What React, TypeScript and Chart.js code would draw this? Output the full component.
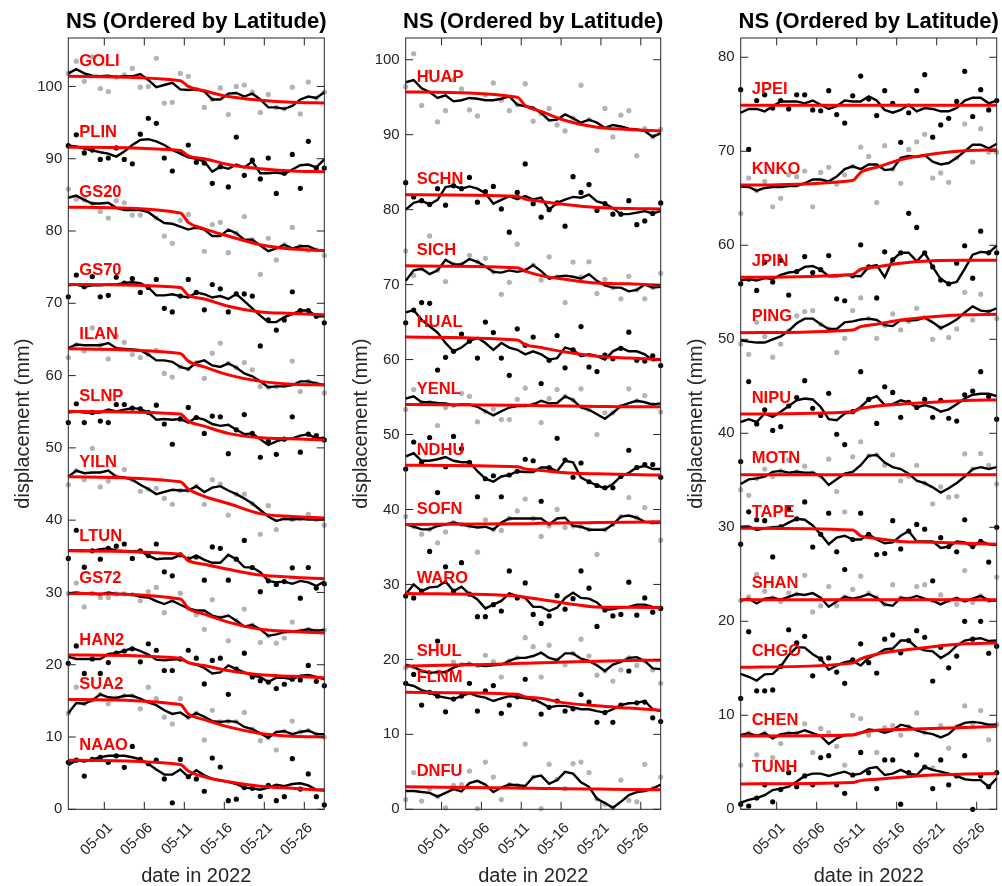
import React, { useEffect, useRef } from "react";
import { Chart, registerables } from "chart.js";

Chart.register(...registerables);
Chart.defaults.font.family = '"Liberation Sans", Arial, Helvetica, sans-serif';

// x axis: day index 0 = 2022-04-26 12:00, one value per day
const fitDays = [0, 14, 15, 17, 20, 24, 28, 32];
const dateTickValues = [4.5, 9.5, 14.5, 19.5, 24.5, 29.5];
const dateTickLabels = ["05-01", "05-06", "05-11", "05-16", "05-21", "05-26"];

const panel1YTicks = [0, 10, 20, 30, 40, 50, 60, 70, 80, 90, 100];
const panel2YTicks = [0, 10, 20, 30, 40, 50, 60, 70, 80, 90, 100];
const panel3YTicks = [0, 10, 20, 30, 40, 50, 60, 70, 80];

const panelTitle = "NS (Ordered by Latitude)";
const xAxisTitle = "date in 2022";
const yAxisTitle = "displacement (mm)";

// ---------------- panel 1 ----------------
const GOLI_obs = [101.8,103.5,100.7,104.1,99.7,99.3,101.3,101.6,102.5,99.9,100.0,103.9,97.7,97.8,101.8,101.4,99.6,97.1,98.2,99.8,96.1,100.0,100.2,99.2,96.4,98.9,97.1,96.9,99.9,96.2,100.6,98.4,99.2];
const GOLI_smooth = [101.8,102.4,101.8,101.5,101.4,101.5,101.3,101.4,101.4,101.7,100.9,99.9,100.2,100.5,99.6,99.5,99.6,99.3,98.2,98.2,99.0,99.1,98.6,99.0,98.2,97.1,97.1,96.9,97.3,98.2,98.6,98.4,99.2];
const GOLI_fit = [101.4,100.8,100.0,99.4,98.6,98.1,97.8,97.7];

const PLIN_obs = [91.8,93.3,90.8,91.2,89.9,90.1,91.5,89.9,89.3,93.4,95.6,94.9,90.1,88.3,91.0,91.9,89.5,89.4,86.6,88.9,86.1,93.0,87.7,89.8,87.2,90.1,85.2,88.0,90.6,85.9,92.4,88.7,88.7];
const PLIN_smooth = [91.8,91.7,91.4,91.15,90.9,90.7,90.3,91.0,91.9,92.6,92.7,92.4,91.9,91.2,90.7,90.2,90.0,89.6,88.2,88.9,88.6,89.2,88.8,89.6,88.0,88.0,88.1,87.9,88.5,89.1,89.2,88.8,89.9];
const PLIN_fit = [91.6,91.15,90.4,90.0,89.2,88.6,88.3,88.2];

const GS20_obs = [85.8,84.4,84.3,83.8,82.7,81.8,84.2,83.9,82.2,82.2,82.8,81.8,79.3,78.3,81.5,82.3,80.5,77.2,80.9,81.2,77.0,79.7,82.0,78.8,74.0,79.0,76.0,78.1,80.5,77.9,77.3,77.4,76.6];
const GS20_smooth = [84.6,84.9,84.3,83.8,83.8,83.9,83.2,82.9,82.9,82.9,82.6,81.8,81.1,81.0,80.6,80.2,80.5,80.2,79.3,79.3,80.2,79.7,78.8,78.8,78.0,77.2,77.6,78.1,77.6,77.9,77.9,77.4,77.2];
const GS20_fit = [83.3,82.5,81.2,80.3,79.3,78.1,77.5,77.3];

const GS70_obs = [70.9,73.9,72.3,73.7,70.9,71.1,73.6,72.8,73.4,71.5,72.2,73.3,69.3,68.8,71.0,73.3,71.5,69.1,72.6,72.0,68.8,71.3,71.3,71.0,64.1,67.7,66.3,67.7,71.6,69.0,69.0,68.2,67.3];
const GS70_smooth = [72.5,72.6,72.3,72.5,72.5,72.6,72.6,72.8,72.9,72.8,72.2,71.1,71.1,71.25,71.0,70.8,71.5,71.25,70.8,71.0,70.6,71.3,70.3,69.3,68.3,67.4,67.4,68.1,68.5,69.0,69.0,68.2,68.2];
const GS70_fit = [72.6,72.2,71.1,70.6,69.6,68.8,68.6,68.4];

const ILAN_obs = [62.5,64.3,63.4,66.6,64.2,62.3,65.5,64.6,62.9,62.5,62.9,63.5,60.3,59.8,61.2,60.9,61.8,59.6,63.1,64.5,61.7,61.1,61.8,60.8,58.5,58.4,58.5,58.6,62.0,57.8,59.2,58.9,57.6];
const ILAN_smooth = [63.8,64.3,64.2,64.2,64.2,64.5,63.8,63.7,63.6,63.5,62.9,62.1,62.1,61.9,61.2,60.9,61.8,62.1,61.4,61.2,61.7,61.1,60.3,59.9,59.2,58.4,58.5,58.5,58.7,59.2,59.2,58.9,58.7];
const ILAN_fit = [63.7,63.05,62.0,61.2,60.1,59.2,58.8,58.7];

const SLNP_obs = [53.5,56.1,53.5,54.9,53.7,53.5,56.0,56.0,55.5,55.4,54.9,55.9,53.3,50.5,54.0,55.6,54.2,52.0,54.4,54.3,49.2,52.5,54.6,52.0,48.7,50.9,49.1,51.2,54.3,49.4,51.9,51.7,51.1];
const SLNP_smooth = [54.9,55.05,54.9,54.9,54.9,55.3,55.05,55.3,55.5,55.4,54.9,53.9,54.0,53.9,54.0,53.5,54.2,53.9,53.3,53.05,53.2,52.5,51.9,52.0,51.2,50.4,50.9,51.2,51.3,51.7,51.9,51.3,51.4];
const SLNP_fit = [55.05,54.7,53.7,53.0,52.0,51.4,51.25,51.1];

const YILN_obs = [44.9,46.85,45.6,49.95,44.6,45.4,46.0,47.0,45.6,44.0,44.3,44.4,43.0,42.2,44.1,44.1,44.7,42.2,45.6,45.0,40.7,43.6,43.6,42.3,38.05,42.0,38.7,40.2,40.1,40.2,40.8,40.1,39.3];
const YILN_smooth = [46.0,46.85,46.5,46.6,46.6,46.85,46.0,45.9,45.6,44.9,44.3,43.6,43.9,44.2,44.1,44.1,44.7,43.9,44.5,44.7,44.1,43.6,43.0,42.3,41.4,40.5,39.9,40.2,40.1,40.2,40.1,40.1,40.1];
const YILN_fit = [46.0,45.3,44.3,43.3,42.3,40.9,40.5,40.3];

const LTUN_obs = [34.7,38.6,33.5,35.75,34.6,36.1,36.4,36.7,34.7,35.75,35.1,36.7,32.85,32.3,35.2,34.6,34.9,31.7,36.3,36.1,31.7,34.6,37.2,33.45,30.1,31.6,31.1,31.5,33.4,29.2,33.45,30.6,31.2];
const LTUN_smooth = [35.8,35.8,35.8,35.75,36.0,36.1,35.8,35.75,35.7,35.75,35.1,34.6,34.7,34.7,35.2,34.6,35.1,34.5,34.1,34.1,35.2,34.6,33.5,33.45,32.8,31.6,31.4,31.5,31.2,31.6,31.4,30.9,31.5];
const LTUN_fit = [35.75,35.3,34.4,33.9,33.2,32.4,32.1,31.9];

const GS72_obs = [29.86,31.3,28.0,29.86,29.3,29.3,29.8,29.8,29.7,28.85,30.1,30.7,27.2,28.85,29.9,27.8,26.9,24.9,29.0,26.5,23.3,26.1,27.7,25.5,23.1,24.0,23.0,23.7,25.9,24.7,24.9,24.7,24.8];
const GS72_smooth = [29.86,30.0,29.86,29.86,29.7,30.0,29.8,29.8,29.7,29.4,29.3,28.8,28.4,28.85,28.3,27.8,27.5,27.5,26.8,26.5,26.8,26.1,25.3,25.5,24.9,24.0,24.2,24.5,24.6,24.7,24.9,24.7,24.8];
const GS72_fit = [29.86,29.1,27.8,27.0,25.9,24.9,24.6,24.4];

const HAN2_obs = [20.2,22.6,18.8,20.8,18.8,20.3,21.6,21.9,22.2,20.4,22.9,22.0,19.2,19.2,20.8,22.0,20.9,17.35,20.6,20.9,15.9,19.4,21.6,18.3,17.8,17.6,16.7,17.3,18.0,17.9,19.9,17.7,17.1];
const HAN2_smooth = [21.1,20.8,20.8,20.8,20.8,21.5,21.6,21.9,22.3,21.9,21.4,20.7,20.6,20.7,20.8,20.3,20.0,19.55,18.8,18.95,19.9,19.4,18.95,18.5,18.3,17.6,18.2,18.2,18.0,18.5,18.6,18.3,18.0];
const HAN2_fit = [21.35,20.9,20.3,19.9,19.2,18.6,18.4,18.2];

const SUA2_obs = [13.3,16.9,14.6,15.1,15.9,14.6,15.4,15.7,15.7,13.9,16.9,15.3,12.75,11.8,15.3,12.7,13.3,9.6,13.7,12.1,12.2,12.1,13.4,11.1,9.5,9.9,8.2,10.8,12.2,10.7,10.9,10.4,10.0];
const SUA2_smooth = [13.3,14.7,14.6,15.1,15.9,15.5,15.4,15.7,15.7,15.3,14.8,14.4,13.7,13.2,13.4,12.7,13.3,12.8,12.2,12.1,12.2,12.1,11.4,11.1,10.5,9.9,10.7,10.8,10.4,10.7,10.9,10.4,10.4];
const SUA2_fit = [15.2,14.5,13.2,12.4,11.4,10.5,10.1,10.0];

const NAAO_obs = [6.5,6.8,4.6,6.9,7.2,6.5,7.4,5.8,8.7,6.9,6.3,6.8,4.2,0.9,6.9,4.5,4.2,2.5,7.1,5.85,1.2,1.4,3.0,2.9,1.8,3.3,1.2,1.75,7.0,2.8,4.9,1.75,0.6];
const NAAO_smooth = [6.1,6.8,6.6,6.9,7.2,7.4,7.4,7.4,7.2,6.9,6.3,5.5,4.8,4.8,5.5,4.5,5.4,4.7,4.2,4.0,3.8,3.5,3.0,2.9,2.7,3.0,3.4,3.2,3.5,3.6,3.3,2.7,2.7];
const NAAO_fit = [6.8,6.2,5.3,4.5,3.8,3.2,2.9,2.6];

// ---------------- panel 2 ----------------
const HUAP_obs = [96.4,100.8,93.9,98.4,91.7,93.2,97.3,96.1,93.3,92.5,95.3,96.9,94.6,93.2,94.0,96.8,91.8,92.8,93.5,91.3,90.5,92.2,96.6,92.0,87.9,93.5,89.7,92.6,93.2,87.2,90.8,89.7,90.7];
const HUAP_smooth = [97.0,97.3,96.2,95.7,94.9,95.25,94.45,94.6,94.9,94.8,94.6,94.6,94.8,95.1,94.0,93.8,93.6,92.9,91.9,92.0,92.7,92.2,91.6,92.0,91.6,90.9,91.3,91.1,90.8,90.7,90.5,89.7,90.2];
const HUAP_fit = [95.7,95.0,93.9,93.1,91.9,91.0,90.7,90.5];

const SCHN_obs = [83.6,81.7,81.2,80.7,82.8,80.6,83.2,82.8,84.3,81.0,82.4,83.1,80.1,77.0,82.3,86.1,80.8,79.0,80.0,80.9,77.8,84.4,82.3,83.35,79.9,80.8,79.4,79.4,81.2,78.0,78.5,79.5,80.9];
const SCHN_smooth = [80.0,80.9,81.2,80.7,81.3,83.0,83.2,82.8,83.1,82.8,82.2,80.8,81.3,81.8,81.4,81.8,81.35,81.6,80.0,80.9,81.35,81.7,81.6,82.0,81.1,80.8,80.2,79.4,79.4,79.6,79.8,79.5,79.8];
const SCHN_fit = [82.0,81.8,81.4,81.1,80.7,80.3,80.15,80.1];

const SICH_obs = [74.5,71.2,72.1,76.5,71.9,70.4,72.7,72.7,73.9,73.05,73.5,71.7,68.7,70.3,75.4,71.9,72.6,70.6,73.7,71.05,67.6,73.0,71.05,73.05,68.8,70.7,69.6,68.1,71.1,69.3,68.1,69.6,71.5];
const SICH_smooth = [70.5,71.9,72.1,71.4,71.9,73.3,72.7,72.7,73.4,73.05,72.4,71.7,71.6,71.9,71.7,71.9,72.6,71.8,70.8,71.05,71.2,71.05,70.8,71.4,70.5,69.9,69.6,69.6,69.1,69.3,70.0,69.6,69.7];
const SICH_fit = [72.5,72.25,71.8,71.2,70.7,70.2,70.1,69.9];

const HUAL_obs = [64.9,66.6,67.6,67.5,58.6,60.3,61.1,63.4,62.45,60.2,65.0,63.6,60.2,57.9,64.1,61.9,63.0,56.8,59.9,63.2,58.9,61.3,64.4,59.0,58.4,60.6,60.1,61.5,63.65,59.9,59.8,60.5,59.2];
const HUAL_smooth = [66.3,66.6,65.3,64.45,63.6,62.2,61.1,61.6,62.45,62.9,62.2,61.3,62.2,61.6,61.3,60.7,61.1,60.7,60.0,60.2,61.6,61.3,60.45,60.7,60.45,60.0,61.1,61.6,61.1,61.1,60.7,59.9,60.0];
const HUAL_fit = [63.0,62.6,62.0,61.6,61.0,60.45,60.2,60.0];

const YENL_obs = [53.35,56.0,54.3,54.3,51.2,53.6,53.9,55.5,55.1,51.7,53.1,53.4,52.0,52.0,54.7,56.2,54.0,51.6,54.8,56.0,55.1,54.6,56.1,53.3,50.0,52.9,52.9,53.8,56.1,54.5,55.2,54.0,53.0];
const YENL_smooth = [54.8,55.1,54.3,54.3,54.2,54.15,53.9,54.0,54.0,53.7,53.1,52.55,53.1,53.6,53.8,53.8,54.0,54.5,54.15,54.2,55.1,54.6,53.6,53.3,52.7,52.1,52.9,53.8,54.2,54.5,54.3,54.0,54.15];
const YENL_fit = [54.0,53.9,53.9,53.85,53.8,53.75,53.7,53.7];

const NDHU_obs = [45.4,49.0,46.3,49.6,42.25,45.7,49.75,48.1,46.3,41.7,44.1,44.5,41.7,44.6,45.1,46.7,46.5,41.1,45.6,49.5,46.6,44.3,46.2,43.7,43.2,42.9,42.9,44.4,47.9,45.6,46.0,46.0,44.3];
const NDHU_smooth = [47.1,47.5,46.5,46.5,46.7,47.0,46.5,46.3,46.3,45.1,44.1,43.7,44.4,44.6,45.1,45.0,45.0,45.6,45.6,45.1,46.5,46.3,44.25,43.7,43.2,42.8,43.4,44.4,44.9,45.6,45.8,45.4,45.4];
const NDHU_fit = [45.9,45.7,45.4,45.2,44.9,44.75,44.65,44.6];

const SOFN_obs = [39.05,37.7,36.7,37.35,35.55,37.0,38.25,38.0,37.8,34.3,38.6,37.3,37.2,38.8,39.8,41.4,38.8,36.4,37.8,40.0,37.6,37.8,37.7,37.3,34.0,37.3,38.0,39.05,41.6,38.9,40.25,38.25,35.9];
const SOFN_smooth = [38.0,37.7,37.35,37.35,37.8,38.0,38.25,38.0,37.8,37.6,37.7,37.3,38.25,38.8,38.8,38.8,38.8,38.8,38.0,38.8,38.9,37.8,37.7,37.3,37.3,37.3,38.0,39.05,39.2,38.9,38.35,38.25,38.25];
const SOFN_fit = [38.0,38.1,38.1,38.15,38.2,38.25,38.3,38.35];

const WARO_obs = [28.45,28.2,29.1,34.4,22.45,32.35,29.1,32.9,28.7,25.7,25.7,27.3,26.45,31.8,28.2,30.2,26.0,24.8,25.8,28.5,26.7,28.1,31.8,29.5,24.4,26.6,25.8,26.0,30.3,25.9,28.2,26.3,26.8];
const WARO_smooth = [28.7,30.0,29.1,29.6,29.7,30.4,29.1,29.7,28.7,28.0,26.8,27.3,27.8,28.8,28.45,28.2,27.0,27.0,26.45,26.9,28.2,28.9,28.2,28.1,27.6,26.6,26.7,26.9,27.0,27.3,27.3,27.0,26.9];
const WARO_fit = [28.8,28.45,28.3,28.0,27.5,27.0,26.95,26.9];

const SHUL_obs = [18.9,19.0,18.45,18.2,18.3,18.3,19.65,19.3,19.4,19.2,20.55,19.7,17.65,19.8,20.2,22.9,21.7,17.65,21.9,19.9,19.3,20.8,22.7,20.45,17.9,18.45,17.1,18.6,20.2,19.2,19.8,18.6,16.8];
const SHUL_smooth = [19.3,19.0,18.45,18.2,18.3,18.3,18.9,19.3,19.4,19.2,19.1,19.2,19.3,19.8,20.2,20.2,20.45,20.9,20.2,19.9,20.8,20.8,20.1,19.8,19.2,18.45,19.3,19.65,20.2,20.3,19.8,18.8,18.7];
const SHUL_fit = [19.1,19.45,19.5,19.55,19.65,19.75,19.85,19.9];

const FLNM_obs = [16.8,18.0,13.9,15.6,15.1,13.0,14.7,15.1,16.8,13.1,15.8,16.5,12.8,13.9,15.0,17.35,14.7,12.7,13.6,14.45,13.1,13.4,15.3,14.3,11.6,12.9,11.6,13.9,18.45,14.2,14.3,12.2,11.7];
const FLNM_smooth = [16.7,16.45,15.9,15.6,15.1,14.9,14.7,15.1,15.5,15.1,14.9,14.45,14.8,15.1,15.0,14.8,14.7,14.2,13.6,13.8,13.8,13.6,13.35,13.35,13.1,12.9,13.35,13.9,14.15,14.2,14.45,13.35,13.1];
const FLNM_fit = [15.6,15.35,15.0,14.8,14.2,13.8,13.5,13.2];

const DNFU_obs = [1.3,4.9,1.1,2.7,1.7,0.2,3.2,3.3,5.1,0.1,6.3,4.3,1.3,3.3,3.2,8.7,4.3,0.1,6.0,4.0,2.75,6.1,6.3,4.9,1.4,0.7,0.2,3.9,1.2,1.0,6.0,2.75,4.3];
const DNFU_smooth = [2.44,2.44,2.3,2.2,1.7,2.2,2.7,2.4,3.5,3.8,3.3,2.3,2.9,3.3,3.2,3.1,4.3,4.5,3.4,3.9,5.0,4.75,3.6,3.0,1.4,0.85,0.2,1.0,1.9,2.3,2.44,2.75,3.3];
const DNFU_fit = [3.0,2.83,2.81,2.79,2.75,2.7,2.65,2.6];

// ---------------- panel 3 ----------------
const JPEI_obs = [76.55,70.2,75.4,76.0,74.6,75.4,74.5,76.0,76.0,74.4,74.3,76.45,73.9,73.0,75.9,78.0,75.55,73.8,76.45,75.1,70.95,74.1,76.45,78.15,71.5,72.8,73.5,75.3,78.5,73.7,76.55,74.4,75.4];
const JPEI_smooth = [74.1,74.5,74.5,74.25,74.8,75.3,75.3,75.3,75.1,75.4,74.95,74.5,74.8,75.4,75.3,75.3,75.85,75.4,74.4,74.1,74.4,74.95,74.25,74.6,74.5,74.25,74.25,74.6,75.4,75.7,75.7,75.1,75.4];
const JPEI_fit = [74.9,74.9,74.9,74.9,74.9,74.9,74.9,74.9];

const KNKO_obs = [63.4,67.15,65.8,66.8,64.1,65.0,67.5,67.3,67.9,64.1,67.75,68.3,66.5,67.5,68.4,70.45,69.45,64.55,70.6,68.1,66.6,70.2,71.0,71.8,67.15,67.7,66.7,69.3,72.9,68.85,72.4,69.9,69.9];
const KNKO_smooth = [66.25,66.2,65.8,66.1,66.2,66.2,66.3,66.3,66.6,67.0,67.0,66.8,67.3,68.1,68.4,68.1,68.6,68.6,68.0,68.1,69.3,69.5,69.4,69.6,68.9,68.6,68.75,69.3,70.0,70.7,70.7,70.3,70.8];
const KNKO_fit = [66.4,66.9,67.75,68.3,69.1,69.7,70.05,70.15];

const JPIN_obs = [55.9,56.4,55.2,58.2,56.1,58.4,54.7,57.2,58.8,57.1,57.4,58.9,54.3,54.1,56.75,60.05,57.7,54.4,59.3,58.45,59.2,63.4,61.9,59.2,57.7,56.3,55.9,58.1,59.95,56.5,61.5,59.2,59.2];
const JPIN_smooth = [56.25,56.4,56.25,56.5,56.4,56.85,57.1,57.2,57.7,57.8,57.4,56.7,56.7,56.85,56.75,56.7,57.7,57.9,56.6,58.45,59.2,59.2,58.3,59.2,57.7,56.4,55.9,56.1,57.5,59.0,59.3,59.2,59.95];
const JPIN_fit = [56.6,56.9,57.45,57.7,58.1,58.35,58.4,58.4];

const PING_obs = [49.5,48.4,51.8,50.3,48.1,49.5,50.9,52.5,52.95,53.05,51.6,51.1,48.6,50.1,53.05,54.4,52.2,50.1,51.5,52.7,51.0,51.9,53.3,52.3,50.0,51.2,50.2,51.1,55.0,52.05,54.8,52.95,52.2];
const PING_smooth = [49.9,49.75,49.65,49.65,50.0,50.3,50.9,51.7,52.2,52.2,51.6,51.1,51.1,51.8,51.9,52.1,52.2,52.05,51.5,51.4,52.05,52.0,52.05,52.3,51.8,51.2,51.6,52.1,52.85,53.5,53.05,52.95,53.3];
const PING_fit = [50.7,51.0,51.35,51.6,52.05,52.4,52.6,52.65];

const NIPU_obs = [37.0,45.5,41.0,42.5,40.3,40.7,42.9,43.8,45.6,42.65,41.9,44.25,39.9,38.8,42.3,46.55,43.6,41.05,44.95,44.35,41.7,43.3,42.75,43.6,41.7,43.5,41.6,41.3,44.1,44.5,46.55,43.9,41.5];
const NIPU_smooth = [41.2,41.5,41.2,42.1,41.75,42.3,42.9,43.5,43.7,43.6,42.8,41.5,41.4,42.1,42.3,42.8,43.6,43.95,43.0,43.1,43.5,43.3,42.75,43.0,42.75,42.3,42.55,43.1,43.7,44.1,44.2,44.2,43.95];
const NIPU_fit = [42.05,42.3,42.65,42.9,43.1,43.3,43.5,43.55];

const MOTN_obs = [34.0,33.4,35.2,36.2,35.4,36.0,37.15,35.9,36.5,35.8,35.45,37.25,33.8,31.65,37.5,39.1,37.6,37.7,36.6,37.7,34.95,35.4,36.6,34.7,32.5,34.3,33.2,33.3,37.8,36.2,37.85,36.6,34.6];
const MOTN_smooth = [34.6,35.1,35.2,35.4,35.9,36.0,35.8,35.9,35.8,35.8,35.45,34.5,35.1,35.7,35.9,36.6,37.6,37.7,36.9,36.4,36.2,35.7,34.95,34.7,34.25,33.7,34.15,34.7,35.4,36.2,36.4,36.2,36.4];
const MOTN_fit = [35.6,35.6,35.6,35.6,35.6,35.6,35.6,35.6];

const TAPE_obs = [28.2,31.65,30.8,30.7,26.85,30.05,32.0,30.9,32.7,27.9,29.25,31.5,27.4,25.5,28.7,31.5,29.25,27.1,27.2,30.7,27.7,29.6,30.3,29.8,24.3,28.9,27.95,27.4,30.8,27.95,28.5,26.3,30.0];
const TAPE_smooth = [30.05,30.1,29.7,29.9,30.0,30.05,30.5,30.9,30.8,30.2,29.25,28.2,28.9,29.1,28.7,28.7,29.25,28.7,28.3,28.4,29.1,29.6,28.5,28.5,28.5,27.8,27.95,28.5,28.4,27.95,28.5,28.2,28.1];
const TAPE_fit = [29.9,29.7,29.1,28.8,28.5,28.4,28.3,28.2];

const SHAN_obs = [22.2,22.6,25.0,23.2,22.5,22.1,23.0,22.9,24.9,21.0,21.65,23.7,21.65,22.6,23.4,24.8,23.0,22.5,21.8,23.9,22.5,22.4,23.7,23.9,22.2,22.8,22.2,21.8,25.4,22.0,22.7,22.2,24.7];
const SHAN_smooth = [22.2,22.4,21.9,22.4,22.5,22.3,22.6,22.9,22.8,23.0,22.5,21.55,22.1,22.6,22.4,22.6,22.9,22.5,21.8,21.65,22.5,22.4,22.7,22.4,22.2,21.8,22.2,22.5,22.1,22.4,22.7,22.2,22.2];
const SHAN_fit = [22.3,22.3,22.3,22.3,22.3,22.3,22.3,22.3];

const CHGO_obs = [11.8,18.9,12.6,12.6,12.7,15.2,19.1,17.7,18.4,14.2,16.0,16.1,14.6,13.4,15.9,17.6,15.6,14.5,18.1,18.55,16.65,17.95,19.0,18.3,13.65,17.25,15.05,16.3,20.0,18.1,20.0,16.6,17.35];
const CHGO_smooth = [14.4,14.1,13.7,14.35,14.4,15.2,16.4,17.25,17.2,16.5,16.0,14.85,15.3,15.65,15.8,15.3,16.1,16.5,17.0,17.1,17.95,17.95,17.2,16.9,16.8,16.1,16.6,17.4,17.95,18.1,18.2,17.9,17.95];
const CHGO_fit = [15.1,15.55,16.0,16.5,16.9,17.3,17.6,17.7];

const CHEN_obs = [4.7,8.1,5.8,8.1,5.5,7.0,8.1,8.1,9.1,6.05,8.6,8.15,6.7,4.7,10.0,9.65,7.9,6.05,8.7,8.9,7.9,8.8,10.25,8.15,4.4,8.9,6.5,8.8,11.0,9.1,10.5,7.4,9.0];
const CHEN_smooth = [7.9,8.1,7.8,8.1,7.55,8.0,8.1,8.1,8.4,8.1,7.8,6.95,7.55,7.9,7.9,8.1,8.5,8.4,8.15,8.4,9.0,8.8,8.4,8.15,8.0,7.65,8.0,8.8,9.2,9.3,9.2,9.0,9.0];
const CHEN_fit = [7.8,7.9,8.15,8.4,8.5,8.6,8.7,8.8];

const TUNH_obs = [0.55,0.35,1.2,2.6,0.8,2.1,3.9,2.4,3.55,2.6,5.5,5.7,2.6,1.7,3.65,6.05,3.9,2.2,5.25,5.25,0.55,3.9,5.8,4.5,2.2,5.25,2.6,3.55,5.7,0.0,3.55,2.4,3.9];
const TUNH_smooth = [0.7,1.0,1.2,1.5,2.05,2.2,2.4,2.95,3.55,3.8,3.8,3.55,3.8,4.0,3.65,3.8,4.35,4.5,3.65,3.8,4.2,3.8,3.65,4.5,4.2,4.0,3.8,3.55,3.2,3.1,3.1,2.4,3.3];
const TUNH_fit = [2.7,2.85,3.05,3.2,3.4,3.65,3.75,3.8];

const panel1Stations = ["GOLI", "PLIN", "GS20", "GS70", "ILAN", "SLNP", "YILN", "LTUN", "GS72", "HAN2", "SUA2", "NAAO"];
const panel2Stations = ["HUAP", "SCHN", "SICH", "HUAL", "YENL", "NDHU", "SOFN", "WARO", "SHUL", "FLNM", "DNFU"];
const panel3Stations = ["JPEI", "KNKO", "JPIN", "PING", "NIPU", "MOTN", "TAPE", "SHAN", "CHGO", "CHEN", "TUNH"];

const OBS: Record<string, number[]> = {
  GOLI: GOLI_obs, PLIN: PLIN_obs, GS20: GS20_obs, GS70: GS70_obs, ILAN: ILAN_obs, SLNP: SLNP_obs,
  YILN: YILN_obs, LTUN: LTUN_obs, GS72: GS72_obs, HAN2: HAN2_obs, SUA2: SUA2_obs, NAAO: NAAO_obs,
  HUAP: HUAP_obs, SCHN: SCHN_obs, SICH: SICH_obs, HUAL: HUAL_obs, YENL: YENL_obs, NDHU: NDHU_obs,
  SOFN: SOFN_obs, WARO: WARO_obs, SHUL: SHUL_obs, FLNM: FLNM_obs, DNFU: DNFU_obs,
  JPEI: JPEI_obs, KNKO: KNKO_obs, JPIN: JPIN_obs, PING: PING_obs, NIPU: NIPU_obs, MOTN: MOTN_obs,
  TAPE: TAPE_obs, SHAN: SHAN_obs, CHGO: CHGO_obs, CHEN: CHEN_obs, TUNH: TUNH_obs,
};
const SMOOTH: Record<string, number[]> = {
  GOLI: GOLI_smooth, PLIN: PLIN_smooth, GS20: GS20_smooth, GS70: GS70_smooth, ILAN: ILAN_smooth, SLNP: SLNP_smooth,
  YILN: YILN_smooth, LTUN: LTUN_smooth, GS72: GS72_smooth, HAN2: HAN2_smooth, SUA2: SUA2_smooth, NAAO: NAAO_smooth,
  HUAP: HUAP_smooth, SCHN: SCHN_smooth, SICH: SICH_smooth, HUAL: HUAL_smooth, YENL: YENL_smooth, NDHU: NDHU_smooth,
  SOFN: SOFN_smooth, WARO: WARO_smooth, SHUL: SHUL_smooth, FLNM: FLNM_smooth, DNFU: DNFU_smooth,
  JPEI: JPEI_smooth, KNKO: KNKO_smooth, JPIN: JPIN_smooth, PING: PING_smooth, NIPU: NIPU_smooth, MOTN: MOTN_smooth,
  TAPE: TAPE_smooth, SHAN: SHAN_smooth, CHGO: CHGO_smooth, CHEN: CHEN_smooth, TUNH: TUNH_smooth,
};
const FIT: Record<string, number[]> = {
  GOLI: GOLI_fit, PLIN: PLIN_fit, GS20: GS20_fit, GS70: GS70_fit, ILAN: ILAN_fit, SLNP: SLNP_fit,
  YILN: YILN_fit, LTUN: LTUN_fit, GS72: GS72_fit, HAN2: HAN2_fit, SUA2: SUA2_fit, NAAO: NAAO_fit,
  HUAP: HUAP_fit, SCHN: SCHN_fit, SICH: SICH_fit, HUAL: HUAL_fit, YENL: YENL_fit, NDHU: NDHU_fit,
  SOFN: SOFN_fit, WARO: WARO_fit, SHUL: SHUL_fit, FLNM: FLNM_fit, DNFU: DNFU_fit,
  JPEI: JPEI_fit, KNKO: KNKO_fit, JPIN: JPIN_fit, PING: PING_fit, NIPU: NIPU_fit, MOTN: MOTN_fit,
  TAPE: TAPE_fit, SHAN: SHAN_fit, CHGO: CHGO_fit, CHEN: CHEN_fit, TUNH: TUNH_fit,
};

const FONT = '"Liberation Sans", Arial, Helvetica, sans-serif';
const AXIS_COLOR = "#262626";
const DARK_DOT = "#000000";
const LIGHT_DOT = "#b3b3b3";
const CANVAS_H = 886;
const PLOT_TOP = 38;
const PLOT_BOTTOM = 809.3;

type PanelCfg = {
  stations: string[];
  yMax: number;
  yTicks: number[];
  firstDark: boolean;
  canvasLeft: number;
  canvasWidth: number;
  plotLeft: number;
  plotRight: number;
  labelGap: number;
};

const PANELS: PanelCfg[] = [
  { stations: panel1Stations, yMax: 106.7, yTicks: panel1YTicks, firstDark: false, canvasLeft: 0, canvasWidth: 335, plotLeft: 68.3, plotRight: 324.3, labelGap: 14.5 },
  { stations: panel2Stations, yMax: 102.9, yTicks: panel2YTicks, firstDark: false, canvasLeft: 340, canvasWidth: 330, plotLeft: 405.7, plotRight: 660.7, labelGap: 15 },
  { stations: panel3Stations, yMax: 82.05, yTicks: panel3YTicks, firstDark: true, canvasLeft: 675, canvasWidth: 327, plotLeft: 740.7, plotRight: 996.7, labelGap: 16 },
];

function Panel({ cfg }: { cfg: PanelCfg }) {
  const ref = useRef<HTMLCanvasElement | null>(null);

  useEffect(() => {
    if (!ref.current) return;
    const datasets: any[] = [];
    cfg.stations.forEach((name, si) => {
      const dark = (si % 2 === 0) === cfg.firstDark;
      datasets.push({
        type: "line",
        data: FIT[name].map((v, i) => ({ x: fitDays[i], y: v })),
        borderColor: "#ff0000",
        borderWidth: 3,
        pointRadius: 0,
        cubicInterpolationMode: "monotone",
        fill: false,
        order: 1,
        clip: false,
      });
      datasets.push({
        type: "line",
        data: SMOOTH[name].map((v, i) => ({ x: i, y: v })),
        borderColor: "#000000",
        borderWidth: 2.4,
        pointRadius: 0,
        tension: 0,
        fill: false,
        order: 2,
        clip: false,
      });
      datasets.push({
        type: "scatter",
        data: OBS[name].map((v, i) => ({ x: i, y: v })),
        backgroundColor: dark ? DARK_DOT : LIGHT_DOT,
        borderWidth: 0,
        pointRadius: 2.6,
        order: 3,
        clip: false,
      });
    });

    const decor = {
      id: "decor",
      afterDatasetsDraw(chart: any) {
        const { ctx, chartArea: a, scales } = chart;
        ctx.save();
        ctx.fillStyle = "#ff0000";
        ctx.font = `bold 16.5px ${FONT}`;
        ctx.textAlign = "left";
        ctx.textBaseline = "middle";
        cfg.stations.forEach((name) => {
          const y = scales.y.getPixelForValue(FIT[name][0]) - cfg.labelGap;
          ctx.fillText(name, a.left + 11, y);
        });
        ctx.restore();
      },
      afterDraw(chart: any) {
        const { ctx, chartArea: a, scales } = chart;
        const tl = 7.5;
        ctx.save();
        ctx.strokeStyle = AXIS_COLOR;
        ctx.lineWidth = 1;
        ctx.strokeRect(a.left, a.top, a.right - a.left, a.bottom - a.top);
        ctx.beginPath();
        cfg.yTicks.forEach((v) => {
          const y = scales.y.getPixelForValue(v);
          ctx.moveTo(a.left, y);
          ctx.lineTo(a.left + tl, y);
          ctx.moveTo(a.right, y);
          ctx.lineTo(a.right - tl, y);
        });
        dateTickValues.forEach((v) => {
          const x = scales.x.getPixelForValue(v);
          ctx.moveTo(x, a.bottom);
          ctx.lineTo(x, a.bottom - tl);
          ctx.moveTo(x, a.top);
          ctx.lineTo(x, a.top + tl);
        });
        ctx.stroke();

        const cx = (a.left + a.right) / 2;
        ctx.fillStyle = "#000000";
        ctx.font = `bold 22px ${FONT}`;
        ctx.textAlign = "center";
        ctx.textBaseline = "alphabetic";
        ctx.fillText(panelTitle, cx, 28);

        ctx.fillStyle = AXIS_COLOR;
        ctx.font = `20px ${FONT}`;
        ctx.fillText(xAxisTitle, cx, 882);

        ctx.translate(a.left - 39, (a.top + a.bottom) / 2);
        ctx.rotate(-Math.PI / 2);
        ctx.fillText(yAxisTitle, 0, 0);
        ctx.restore();
      },
    };

    const padRight = cfg.canvasWidth - (cfg.plotRight - cfg.canvasLeft);
    const chart = new Chart(ref.current, {
      type: "scatter",
      data: { datasets },
      plugins: [decor],
      options: {
        animation: false,
        responsive: false,
        maintainAspectRatio: false,
        devicePixelRatio: 1,
        events: [],
        layout: { padding: { top: PLOT_TOP, right: padRight, left: 0, bottom: 0 } },
        plugins: { legend: { display: false }, tooltip: { enabled: false }, title: { display: false } },
        scales: {
          x: {
            type: "linear",
            min: 0,
            max: 32,
            grid: { display: false, drawTicks: false },
            border: { display: false },
            afterBuildTicks: (s: any) => {
              s.ticks = dateTickValues.map((v) => ({ value: v }));
            },
            afterFit: (s: any) => {
              s.height = CANVAS_H - PLOT_BOTTOM;
            },
            ticks: {
              autoSkip: false,
              minRotation: 45,
              maxRotation: 45,
              labelOffset: 6,
              padding: 10,
              color: AXIS_COLOR,
              font: { size: 15 },
              callback: (v: any) => {
                const i = dateTickValues.indexOf(Number(v));
                return i >= 0 ? dateTickLabels[i] : "";
              },
            },
          },
          y: {
            type: "linear",
            min: 0,
            max: cfg.yMax,
            grid: { display: false, drawTicks: false },
            border: { display: false },
            afterBuildTicks: (s: any) => {
              s.ticks = cfg.yTicks.map((v) => ({ value: v }));
            },
            afterFit: (s: any) => {
              s.width = cfg.plotLeft - cfg.canvasLeft;
            },
            ticks: {
              padding: 6,
              color: AXIS_COLOR,
              font: { size: 15 },
              callback: (v: any) => String(v),
            },
          },
        },
      } as any,
    });
    return () => chart.destroy();
  }, [cfg]);

  return (
    <canvas
      ref={ref}
      width={cfg.canvasWidth}
      height={CANVAS_H}
      style={{ position: "absolute", left: cfg.canvasLeft, top: 0, width: cfg.canvasWidth, height: CANVAS_H }}
    />
  );
}

export default function App() {
  return (
    <div style={{ position: "absolute", left: 0, top: 0, width: 1002, height: CANVAS_H, background: "#ffffff" }}>
      {PANELS.map((p, i) => (
        <Panel key={i} cfg={p} />
      ))}
    </div>
  );
}
